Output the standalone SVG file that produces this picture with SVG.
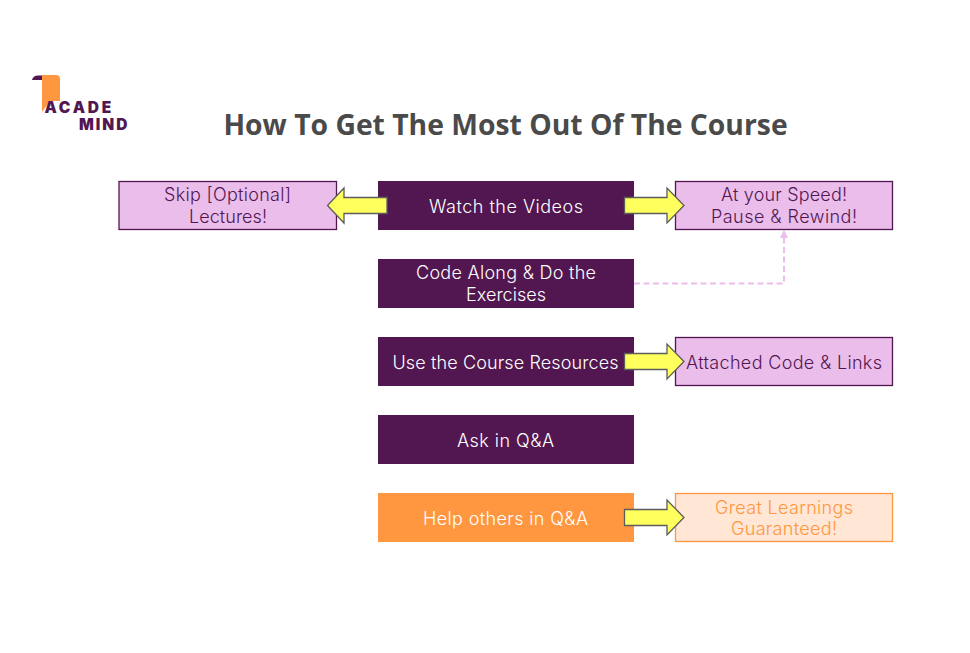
<svg xmlns="http://www.w3.org/2000/svg" width="970" height="653" viewBox="0 0 970 653">
<style>
text{font-family:"Inter","Noto Sans",sans-serif;font-size:18px;font-weight:350;text-anchor:middle}
.d{fill:#521751}
.o{fill:#ff9640}
.l{fill:#ebbdeb;stroke:#521751;stroke-width:1.3}
.w{fill:#fff}
.t{fill:#521751}
.a{fill:#ffff5e;stroke:#5c5c5c;stroke-width:1.3;stroke-linejoin:miter}
.logo{font-family:"Inter","Noto Sans",sans-serif;font-weight:900;font-size:15.500px;fill:#521751;text-anchor:start}
</style>
<rect width="970" height="653" fill="#fff"/>
<g id="logo">
<path d="M42 75H56Q60 75 60 79V101H50L42 112Z" fill="#ff9640"/>
<path d="M32 80Q33 75.500 38 75.500H42V80Z" fill="#521751"/>
<text class="logo" x="44.500" y="113" style="letter-spacing:2.800px">ACADE</text>
<text class="logo" x="79" y="130" style="letter-spacing:2px">MIND</text>
</g>
<text id="title" x="505.500" y="135" style="font-family:'Open Sans','Noto Sans',sans-serif;font-weight:700;font-size:28.300px;fill:#4a4a4a">How To Get The Most Out Of The Course</text>
<g id="connectors">
<path d="M634 283.500H784V237" fill="none" stroke="#ebbdeb" stroke-width="2" stroke-dasharray="6 3.500"/>
<path d="M784 230L788 238H780Z" fill="#ebbdeb"/>
</g>
<g id="watch"><rect class="d" x="378" y="181" width="256" height="49"/><text class="w" x="506" y="212.500" textLength="154">Watch the Videos</text></g>
<g id="code"><rect class="d" x="378" y="259" width="256" height="49"/><text class="w" x="506" y="278.500" textLength="180">Code Along &amp; Do the</text><text class="w" x="506" y="300.500" textLength="80">Exercises</text></g>
<g id="resources"><rect class="d" x="378" y="337" width="256" height="49"/><text class="w" x="505.500" y="368.500" textLength="226">Use the Course Resources</text></g>
<g id="ask"><rect class="d" x="378" y="415" width="256" height="49"/><text class="w" x="505.500" y="446.500" textLength="97">Ask in Q&amp;A</text></g>
<g id="help"><rect class="o" x="378" y="493" width="256" height="49"/><text class="w" x="505.500" y="524.500" textLength="165">Help others in Q&amp;A</text></g>
<g id="skip"><rect class="l" x="119" y="181.500" width="217.500" height="48"/><text class="t" x="227.500" y="200.500" textLength="127">Skip [Optional]</text><text class="t" x="228" y="223" textLength="78">Lectures!</text></g>
<g id="speed"><rect class="l" x="675.500" y="181.500" width="217" height="48"/><text class="t" x="784" y="200.500" textLength="126">At your Speed!</text><text class="t" x="784" y="223" textLength="146">Pause &amp; Rewind!</text></g>
<g id="attached"><rect class="l" x="675.500" y="337.500" width="217" height="48"/><text class="t" x="784" y="368.500" textLength="196">Attached Code &amp; Links</text></g>
<g id="guaranteed"><rect x="675.500" y="493.500" width="217" height="48" fill="#ffe6d5" stroke="#ff9640" stroke-width="1.300"/><text class="o" x="784" y="513.500" textLength="138">Great Learnings</text><text class="o" x="784" y="535" textLength="106">Guaranteed!</text></g>
<g id="arrows">
<path class="a" d="M387 197.500H344V188L327.500 205.500L344 223V213.500H387Z"/>
<path class="a" d="M624.500 197.500H667V188L684 205.500L667 223V213.500H624.500Z"/>
<path class="a" d="M624.500 353.500H667V344L684 361.500L667 379V369.500H624.500Z"/>
<path class="a" d="M624.500 509.500H667V500L684 517.500L667 535V525.500H624.500Z"/>
</g>
</svg>
